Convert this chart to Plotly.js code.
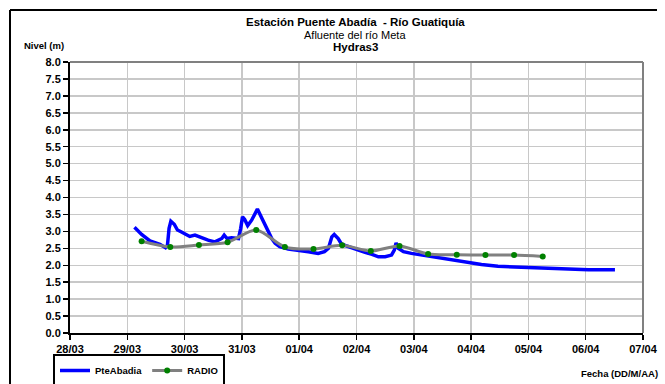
<!DOCTYPE html>
<html>
<head>
<meta charset="utf-8">
<script src="https://cdn.plot.ly/plotly-3.0.1.min.js"></script>
<style>html,body{margin:0;padding:0;background:#fff;}#chart{width:665px;height:384px;}</style>
</head>
<body>
<div id="chart"></div>
<script>
// PteAbadia (blue) series
var pteTimes = [
 '2014-03-29 03:00','2014-03-29 06:00','2014-03-29 09:30','2014-03-29 12:15','2014-03-29 13:40',
 '2014-03-29 16:00','2014-03-29 16:50','2014-03-29 17:30','2014-03-29 18:15','2014-03-29 19:40',
 '2014-03-29 21:00','2014-03-29 22:30','2014-03-30 00:15','2014-03-30 02:10','2014-03-30 04:20',
 '2014-03-30 07:10','2014-03-30 09:50','2014-03-30 12:40','2014-03-30 15:35','2014-03-30 16:35',
 '2014-03-30 17:45','2014-03-30 19:40','2014-03-30 22:35','2014-03-30 23:30','2014-03-31 00:15',
 '2014-03-31 01:10','2014-03-31 02:25','2014-03-31 04:05','2014-03-31 06:30','2014-03-31 08:25',
 '2014-03-31 10:20','2014-03-31 12:30','2014-03-31 13:55','2014-03-31 15:50','2014-03-31 19:25',
 '2014-03-31 23:30','2014-04-01 03:50','2014-04-01 07:55','2014-04-01 10:35','2014-04-01 12:15',
 '2014-04-01 13:40','2014-04-01 14:40','2014-04-01 16:20','2014-04-01 17:45','2014-04-01 20:40',
 '2014-04-01 22:35','2014-04-02 01:10','2014-04-02 03:35','2014-04-02 06:30','2014-04-02 09:10',
 '2014-04-02 12:00','2014-04-02 14:40','2014-04-02 15:50','2014-04-02 16:35','2014-04-02 17:30',
 '2014-04-02 19:40','2014-04-02 23:00','2014-04-03 03:20','2014-04-03 07:25','2014-04-03 13:00',
 '2014-04-03 18:40','2014-04-03 22:50','2014-04-04 04:20','2014-04-04 11:15','2014-04-04 21:10',
 '2014-04-05 05:30','2014-04-05 15:20','2014-04-06 01:10','2014-04-06 12:15'
];
var pteValues = [
 3.12,2.91,2.72,2.65,2.62,
 2.52,2.60,3.09,3.30,3.21,
 3.04,2.99,2.91,2.85,2.89,
 2.81,2.74,2.69,2.79,2.89,
 2.79,2.81,2.79,3.09,3.43,
 3.35,3.17,3.33,3.66,3.38,
 3.09,2.79,2.65,2.55,2.48,
 2.45,2.40,2.35,2.40,2.50,
 2.84,2.91,2.79,2.62,2.55,
 2.50,2.42,2.38,2.32,2.25,
 2.25,2.30,2.45,2.66,2.50,
 2.40,2.35,2.30,2.25,2.20,
 2.14,2.08,2.02,1.97,1.94,
 1.92,1.89,1.87,1.87
];
// RADIO (gray line, green markers)
var radioTimes = [
 '2014-03-29 06:00','2014-03-29 18:00','2014-03-30 06:00','2014-03-30 18:00','2014-03-31 06:00',
 '2014-03-31 18:00','2014-04-01 06:00','2014-04-01 18:00','2014-04-02 06:00','2014-04-02 18:00',
 '2014-04-03 06:00','2014-04-03 18:00','2014-04-04 06:00','2014-04-04 18:00','2014-04-05 06:00'
];
var radioValues = [2.71,2.54,2.60,2.68,3.04,2.54,2.48,2.59,2.42,2.57,2.33,2.31,2.30,2.30,2.26];

var xRange = ['2014-03-28','2014-04-07'];
var yTicks = [0,0.5,1,1.5,2,2.5,3,3.5,4,4.5,5,5.5,6,6.5,7,7.5,8];

var FONT = 'Liberation Sans, Arial, sans-serif';

var traces = [
 {x: pteTimes, y: pteValues, type: 'scatter', mode: 'lines', name: 'PteAbadia',
  line: {color: '#0000ff', width: 3.5}},
 {x: radioTimes, y: radioValues, type: 'scatter', mode: 'lines+markers', name: 'RADIO',
  line: {color: '#808080', width: 3, shape: 'spline', smoothing: 0.8},
  marker: {color: '#008000', size: 6}}
];

var L = 70, R = 643, T = 62, B = 333, W = 665, H = 384;
function px(x){ return (x - L) / (R - L); }
function py(y){ return (B - y) / (B - T); }

var layout = {
 width: W, height: H,
 margin: {l: L, r: W - R, t: T, b: H - B, pad: 0, autoexpand: false},
 paper_bgcolor: '#fff', plot_bgcolor: '#fff',
 font: {family: FONT, color: '#000', size: 11},
 showlegend: true,
 legend: {orientation: 'h', x: px(53), y: py(354), xanchor: 'left', yanchor: 'top',
  bordercolor: '#000', borderwidth: 2, bgcolor: '#fff',
  font: {family: FONT, size: 9.5, weight: 'bold'}, itemwidth: 30, tracegroupgap: 0},
 xaxis: {type: 'date', range: xRange, dtick: 86400000, tick0: '2014-03-28',
  tickformat: '%d/%m', showgrid: true, gridcolor: '#c8c8c8', gridwidth: 1.5,
  showline: true, linecolor: '#000', linewidth: 2, ticks: 'outside', ticklen: 5,
  tickcolor: '#000', tickwidth: 1.5, zeroline: false,
  tickfont: {family: FONT, size: 11, weight: 'bold'}, fixedrange: true},
 yaxis: {range: [0, 8], tickvals: yTicks, tickformat: '.1f', showgrid: true,
  gridcolor: '#c8c8c8', gridwidth: 1.5, showline: true, linecolor: '#000', linewidth: 2,
  ticks: 'outside', ticklen: 5, tickcolor: '#000', tickwidth: 1.5, zeroline: false,
  tickfont: {family: FONT, size: 11, weight: 'bold'}, fixedrange: true},
 shapes: [
  {type: 'line', xref: 'paper', yref: 'paper', x0: 0, x1: 1, y0: 1, y1: 1, line: {color: '#808080', width: 2}},
  {type: 'line', xref: 'paper', yref: 'paper', x0: 1, x1: 1, y0: 0, y1: 1, line: {color: '#808080', width: 2}},
  {type: 'line', xref: 'paper', yref: 'paper', x0: px(10), x1: px(657), y0: py(10), y1: py(10), line: {color: '#000', width: 2}},
  {type: 'line', xref: 'paper', yref: 'paper', x0: px(10), x1: px(10), y0: py(10), y1: py(390), line: {color: '#000', width: 2}}
 ],
 annotations: [
  {xref: 'paper', yref: 'paper', x: px(355), y: py(22), text: '<b>Estación Puente Abadía  - Río Guatiquía</b>',
   showarrow: false, font: {family: FONT, size: 11.5}, xanchor: 'center', yanchor: 'middle'},
  {xref: 'paper', yref: 'paper', x: px(355), y: py(35), text: 'Afluente del río Meta',
   showarrow: false, font: {family: FONT, size: 11}, xanchor: 'center', yanchor: 'middle'},
  {xref: 'paper', yref: 'paper', x: px(355), y: py(47), text: '<b>Hydras3</b>',
   showarrow: false, font: {family: FONT, size: 11.5}, xanchor: 'center', yanchor: 'middle'},
  {xref: 'paper', yref: 'paper', x: px(22), y: py(46), text: '<b>Nivel (m)</b>',
   showarrow: false, font: {family: FONT, size: 9.5}, xanchor: 'left', yanchor: 'middle'},
  {xref: 'paper', yref: 'paper', x: px(660), y: py(373), text: '<b>Fecha (DD/M/AA)</b>',
   showarrow: false, font: {family: FONT, size: 9.5}, xanchor: 'right', yanchor: 'middle'}
 ]
};

Plotly.newPlot('chart', traces, layout, {staticPlot: true, displayModeBar: false});
</script>
</body>
</html>
